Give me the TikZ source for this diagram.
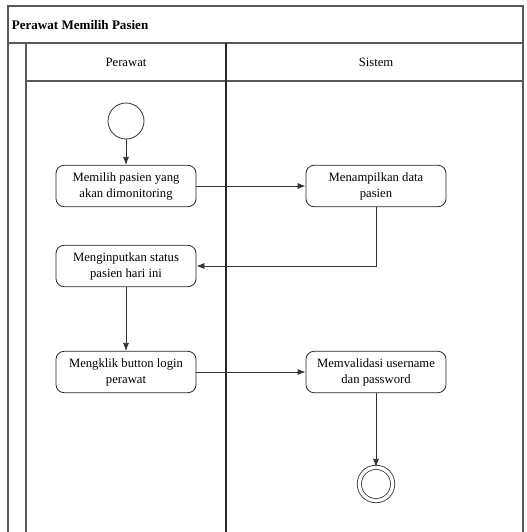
\documentclass[tikz,border=0pt]{standalone}
\usepackage{fontspec}
\setmainfont{Liberation Serif}
\usetikzlibrary{arrows.meta, positioning}
\tikzstyle{activity} = [rectangle, rounded corners=6pt, draw=black!85, align=center, minimum height=31pt, minimum width=105pt, inner sep=1pt, font=\fontsize{9.5}{12}\selectfont]
\tikzstyle{arrow} = [draw=black!80, ->, >={Latex[length=6pt, width=4.5pt]}]
\tikzstyle{startnode} = [circle, draw=black!80, minimum size=27pt]
\tikzstyle{endnode} = [circle, draw=black!80, double, double distance=2.5pt, minimum size=25pt]
\tikzstyle{lane} = [draw=black!65, line width=0.8pt]

\begin{document}
\begin{tikzpicture}[x=0.75pt, y=-0.75pt, line width=0.6pt, on grid]
    \useasboundingbox (0,0) rectangle (527,532);

    % Swimlanes
    \draw [lane] (8,532) -- (8,6) -- (523,6) -- (523,532);
    \draw [lane] (8,43) -- (523,43);
    \draw [lane] (26,532) -- (26,43);
    \draw [lane] (26,81) -- (523,81);
    \draw [lane, draw=black!85] (226,43) -- (226,532);
    \node (title) [anchor=west, font=\fontsize{9.8}{12}\selectfont\bfseries] at (7,25) {Perawat Memilih Pasien};
    \node (laneA) [font=\fontsize{9.5}{12}\selectfont] at (126,62) {Perawat};
    \node (laneB) [font=\fontsize{9.5}{12}\selectfont] at (376,62) {Sistem};

    % Activities
    \node (start) [startnode] at (126,121) {};
    \node (act1) [activity, below=48.75pt of start] {Memilih pasien yang\\akan dimonitoring};
    \node (act2) [activity, right=187.5pt of act1] {Menampilkan data\\pasien};
    \node (act3) [activity, below=60pt of act1] {Menginputkan status\\pasien hari ini};
    \node (act4) [activity, below=79.5pt of act3] {Mengklik button login\\perawat};
    \node (act5) [activity, below=139.5pt of act2] {Memvalidasi username\\dan password};
    \node (end) [endnode, below=84pt of act5] {};

    % ==== Arrows
    \draw [arrow] (start) -- (act1);
    \draw [arrow] (act1) -- (act2);
    \draw [arrow] (act2) |- (act3);
    \draw [arrow] (act3) -- (act4);
    \draw [arrow] (act4) -- (act5);
    \draw [arrow] (act5) -- (end);

\end{tikzpicture}
\end{document}
